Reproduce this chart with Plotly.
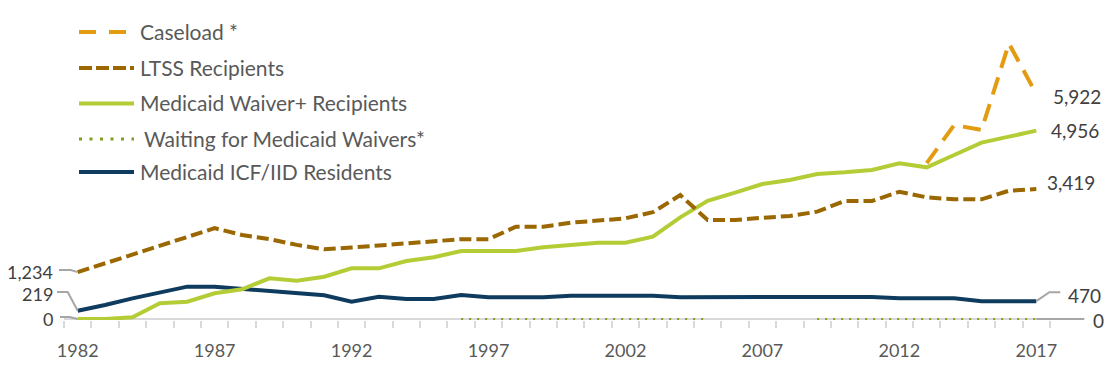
import plotly.graph_objects as go

# ---------------- data ----------------
years = [1982, 1983, 1984, 1985, 1986, 1987, 1988, 1989, 1990, 1991,
         1992, 1993, 1994, 1995, 1996, 1997, 1998, 1999, 2000, 2001,
         2002, 2003, 2004, 2005, 2006, 2007, 2008, 2009, 2010, 2011,
         2012, 2013, 2014, 2015, 2016, 2017]

caseload = [None, None, None, None, None, None, None, None, None, None,
            None, None, None, None, None, None, None, None, None, None,
            None, None, None, None, None, None, None, None, None, None,
            None, 4100, 5105, 4975, 7250, 5922]

ltss = [1234, 1470, 1700, 1930, 2170, 2390, 2210, 2100, 1950, 1835,
        1880, 1930, 1990, 2050, 2100, 2100, 2430, 2430, 2535, 2590,
        2650, 2810, 3260, 2605, 2605, 2665, 2710, 2825, 3105, 3105,
        3350, 3200, 3150, 3150, 3375, 3419]

waiver = [0, 0, 45, 413, 456, 676, 781, 1070, 1008, 1114,
          1333, 1333, 1526, 1623, 1789, 1789, 1789, 1886, 1947, 2009,
          2009, 2167, 2675, 3110, 3325, 3553, 3658, 3816, 3860, 3921,
          4096, 3991, 4316, 4640, 4798, 4956]

waiting = [None, None, None, None, None, None, None, None, None, None,
           None, None, None, None, 0, 0, 0, 0, 0, 0,
           0, 0, 0, 0, None, None, None, 0, 0, 0,
           0, 0, 0, 0, 0, 0]

icf = [219, 368, 544, 693, 851, 851, 789, 737, 676, 623,
       456, 587, 526, 526, 631, 570, 570, 570, 614, 614,
       614, 614, 570, 580, 580, 580, 580, 580, 580, 580,
       544, 544, 544, 465, 465, 470]

names = ["Caseload *", "LTSS Recipients", "Medicaid Waiver+ Recipients",
         "Waiting for Medicaid Waivers*", "Medicaid ICF/IID Residents"]
series = [caseload, ltss, waiver, waiting, icf]

tick_years = [1982, 1987, 1992, 1997, 2002, 2007, 2012, 2017]

# ---------------- layout geometry ----------------
# The page body has an 8px margin, so the figure is drawn 8px right/down.
OFF = 8
WIN_W, WIN_H = 1112, 365
W, H = WIN_W - OFF, WIN_H - OFF
# plot area in window pixels
PL, PR, PT, PB = 64, 1050, 30, 320
L, T = PL - OFF, PT - OFF
R = W - (PR - OFF)
B = H - (PB - OFF)
PW, PH = PR - PL, PB - PT
X0, X1 = 1981.5, 2017.5
Y0, Y1 = -26.3, 7605

FONT = "Lato, 'Open Sans', sans-serif"
TXT = "#404040"
LEG_TXT = "#595959"
GRAY = "#a6a6a6"
AXIS = "#d9d9d9"


def xp(px):
    """window pixel x -> paper"""
    return (px - PL) / PW


def yp(py):
    """window pixel y -> paper"""
    return (PB - py) / PH


def px_year(yr):
    return PL + (yr - X0) / (X1 - X0) * PW


def py_val(v):
    return PB - (v - Y0) / (Y1 - Y0) * PH


styles = [
    dict(color="#E39B12", width=4, dash="18px,10px"),
    dict(color="#9A6700", width=4, dash="12px,5px"),
    dict(color="#B4CD37", width=4, dash="solid"),
    dict(color="#7F9C23", width=2, dash="2px,6px"),
    dict(color="#0F3C5E", width=4, dash="solid"),
]
legend_styles = [
    dict(color="#E39B12", width=4, dash="17px,13px"),
    dict(color="#9A6700", width=4, dash="13px,4px"),
    dict(color="#B4CD37", width=4, dash="solid"),
    dict(color="#7F9C23", width=3, dash="3px,7.5px"),
    dict(color="#0F3C5E", width=4, dash="solid"),
]

fig = go.Figure()
draw_order = [3, 4, 2, 1, 0]
for i in draw_order:
    fig.add_trace(go.Scatter(
        x=years, y=series[i], name=names[i], mode="lines",
        line=dict(color=styles[i]["color"], width=styles[i]["width"],
                  dash=styles[i]["dash"]),
        connectgaps=False, showlegend=False, hoverinfo="x+y+name"))

shapes = []
annotations = []

# x-axis baseline
shapes.append(dict(type="line", xref="paper", yref="paper",
                   x0=0, x1=1, y0=yp(py_val(0)), y1=yp(py_val(0)),
                   line=dict(color=AXIS, width=2), layer="below"))

# manual legend
leg_y = [32, 68, 103.5, 139, 172]
for i, nm in enumerate(names):
    st = legend_styles[i]
    shapes.append(dict(type="line", xref="paper", yref="paper",
                       x0=xp(79), x1=xp(134), y0=yp(leg_y[i]), y1=yp(leg_y[i]),
                       line=dict(color=st["color"], width=st["width"], dash=st["dash"])))
    tx = 142 if i == 3 else 138
    annotations.append(dict(xref="paper", yref="paper", x=xp(tx), y=yp(leg_y[i] - 1),
                            text=nm, showarrow=False, xanchor="left", yanchor="middle",
                            font=dict(family=FONT, size=21, color=LEG_TXT)))


def leader(points):
    d = "M " + " L ".join(f"{xp(a):.5f},{yp(b):.5f}" for a, b in points)
    shapes.append(dict(type="path", xref="paper", yref="paper", path=d,
                       line=dict(color=GRAY, width=2)))


def label(px, py, text, anchor, size=19):
    annotations.append(dict(xref="paper", yref="paper", x=xp(px), y=yp(py),
                            text=text, showarrow=False, xanchor=anchor, yanchor="middle",
                            font=dict(family=FONT, size=size, color=TXT)))


# left-side start labels
x_first = px_year(years[0])
leader([(x_first, py_val(ltss[0])), (x_first - 7, py_val(ltss[0]) - 2), (59, py_val(ltss[0]) - 2)])
label(55, py_val(ltss[0]) - 0.5, f"{ltss[0]:,}", "right", 18)
leader([(x_first, py_val(icf[0])), (x_first - 10, 292), (57, 292)])
label(55, 294, f"{icf[0]:,}", "right", 18)
leader([(x_first, py_val(waiver[0])), (x_first - 8, py_val(waiver[0]) - 2), (60, py_val(waiver[0]) - 2)])
label(55, py_val(waiver[0]), f"{waiver[0]:,}", "right", 18)

# right-side end labels
x_last = px_year(years[-1])
label(x_last + 15, py_val(caseload[-1]) + 2.5, f"{caseload[-1]:,}", "left")
label(x_last + 13, py_val(waiver[-1]), f"{waiver[-1]:,}", "left")
label(x_last + 9, py_val(ltss[-1]) - 7, f"{ltss[-1]:,}", "left")
leader([(x_last, py_val(icf[-1])), (x_last + 13, py_val(icf[-1]) - 9), (x_last + 24, py_val(icf[-1]) - 9)])
label(x_last + 30, py_val(icf[-1]) - 6, f"{icf[-1]:,}", "left")
leader([(x_last, py_val(0)), (x_last + 48, py_val(0))])
label(x_last + 55, py_val(0) + 1, "0", "left")

fig.update_layout(
    width=W, height=H,
    margin=dict(l=L, r=R, t=T, b=B, pad=0, autoexpand=False),
    paper_bgcolor="white", plot_bgcolor="white",
    showlegend=False,
    font=dict(family=FONT, color=LEG_TXT),
    shapes=shapes, annotations=annotations,
    xaxis=dict(range=[X0, X1], showgrid=False, zeroline=False, showline=False,
               automargin=False,
               tickmode="array", tickvals=tick_years,
               ticktext=[str(y) for y in tick_years],
               ticks="", ticklabelstandoff=18,
               tickfont=dict(family=FONT, size=18, color=LEG_TXT),
               minor=dict(tick0=1981.5, dtick=1, ticks="outside", ticklen=7,
                          tickwidth=2, tickcolor=AXIS, showgrid=False)),
    yaxis=dict(range=[Y0, Y1], visible=False, showgrid=False, zeroline=False,
               automargin=False),
)

fig.write_html("out.html")
